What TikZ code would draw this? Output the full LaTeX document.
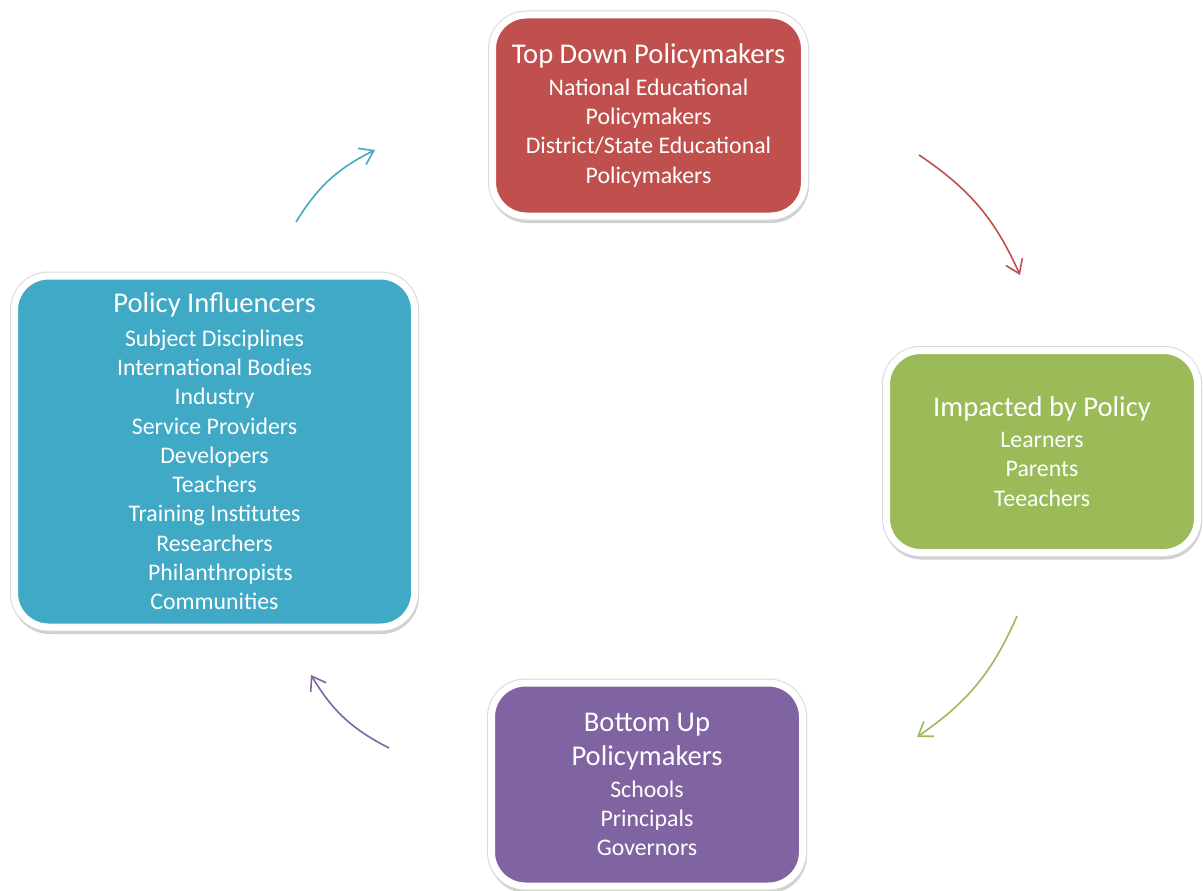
\documentclass[tikz,border=0pt]{standalone}
\usepackage{fontspec}
\setmainfont{Carlito}
\usepackage{tikz}
\usetikzlibrary{arrows.meta}
\usetikzlibrary{shadows}
\usetikzlibrary{positioning}
\definecolor{topred}{HTML}{C0504D}
\definecolor{impgreen}{HTML}{9BBB59}
\definecolor{botpurple}{HTML}{8064A2}
\definecolor{inflblue}{HTML}{40A9C5}

\begin{document}
\begin{tikzpicture}[x=1pt,y=1pt,
  box/.style={rectangle,rounded corners=34pt,draw=white,line width=7pt,
    text=white,align=center,inner sep=0pt,
    font=\fontsize{23.8}{29.3}\selectfont,
    drop shadow={shadow xshift=1pt,shadow yshift=-3.5pt,opacity=0.3,
      fill=black!60,draw=black!60,line width=7pt},
    preaction={draw=black!15,line width=9pt}},
  flow/.style={line width=1.6pt,-{Straight Barb[length=13pt,width=18pt,line width=1.6pt]}}]
\useasboundingbox (0,0) rectangle (1203,-891);
\node [box,fill=topred,minimum width=312pt,minimum height=201pt] (top) at (648.5,-115.5)
  {{\fontsize{28.6}{32}\selectfont Top Down Policymakers}\\[2pt]
   National Educational\\ Policymakers\\ District/State Educational\\ Policymakers};
\node [box,fill=impgreen,minimum width=311pt,minimum height=202pt] (imp) at (1042,-451.5)
  {{\fontsize{28.6}{32}\selectfont Impacted by Policy}\\[2pt]
   Learners\\ Parents\\ Teeachers};
\node [box,fill=botpurple,minimum width=311pt,minimum height=203pt] (bot) at (647,-784.5)
  {{\fontsize{28.6}{35}\selectfont Bottom Up}\\[5pt]
   {\fontsize{28.6}{32}\selectfont Policymakers}\\[2pt]
   Schools\\ Principals\\ Governors};
\node [box,fill=inflblue,minimum width=400pt,minimum height=351pt] (infl) at (214.5,-451.5)
  {{\fontsize{28.6}{32}\selectfont Policy Influencers}\\[4pt]
   Subject Disciplines\\ International Bodies\\ Industry\\ Service Providers\\
   Developers\\ Teachers\\ Training Institutes\\ Researchers\\
   \hspace{12pt}Philanthropists\\ Communities};
\coordinate (a1) at (296,-222);
\coordinate (a2) at (375,-150);
\coordinate (b1) at (919,-155);
\coordinate (b2) at (1020,-275);
\coordinate (c1) at (1017,-616);
\coordinate (c2) at (917,-737);
\coordinate (d1) at (389,-748);
\coordinate (d2) at (311,-675);
\draw [flow,inflblue] (a1) to[bend left=16] (a2);
\draw [flow,topred] (b1) to[bend left=16] (b2);
\draw [flow,impgreen] (c1) to[bend left=16] (c2);
\draw [flow,botpurple] (d1) to[bend left=16] (d2);
\end{tikzpicture}
\end{document}
